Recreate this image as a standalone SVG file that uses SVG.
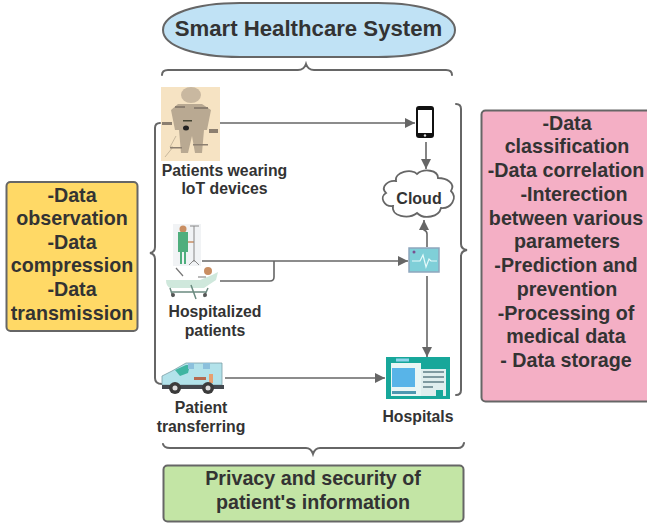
<svg xmlns="http://www.w3.org/2000/svg" width="647" height="523" viewBox="0 0 647 523">
<style>
text{font-family:"Liberation Sans",Arial,sans-serif;font-weight:700;fill:#333;text-anchor:middle}
.t20{font-size:19.700px}.t15{font-size:15.800px}
.box{stroke:#666;stroke-width:2}
.brace{fill:none;stroke:#666;stroke-width:2;stroke-linecap:round}
.line{fill:none;stroke:#666;stroke-width:1.6}
.arrow{marker-end:url(#ah)}
</style>
<defs>
<marker id="ah" markerUnits="userSpaceOnUse" markerWidth="11" markerHeight="10" refX="10" refY="5" orient="auto"><path d="M0 0L10 5L0 10Z" fill="#666"/></marker>
</defs>
<rect width="647" height="523" fill="#fff"/>
<g id="title"><path class="box" d="M163 30C163 14 195 3 240 3H378C423 3 455 14 455 30C455 46 423 57 378 57H240C195 57 163 46 163 30Z" fill="#c0e2f5"/><text x="308.500" y="36" font-size="22.200px">Smart Healthcare System</text></g>
<g id="connectors">
<path class="brace" d="M162 75Q162 70 168 70H298Q304 70 306 64Q308 70 314 70H446Q452 70 452 75"/>
<path class="brace" d="M163 444Q164 448 170 448H306Q311 448 313 454Q315 448 320 448H458Q463 448 464 443"/>
<path class="brace" d="M160 123Q155 123 155 128V247Q155 252 150 253Q155 254 155 259V378Q155 384 162 384"/>
<path class="brace" d="M456 104Q461 104 461 109V244Q461 249 467 250Q461 251 461 256V390Q461 395 456 395"/>
<path class="line arrow" d="M220 123H415"/>
<path class="line arrow" d="M426 142V169"/>
<path class="line arrow" d="M427 247V234Q427 231 424 230V220"/>
<path class="line arrow" d="M202 261H408"/>
<path class="line" d="M220 281H270Q274 281 274 277V261"/>
<path class="line arrow" d="M427 276V357"/>
<path class="line arrow" d="M225 378H385"/>
</g>
<g id="left-box"><rect class="box" x="6.500" y="182" width="131" height="149" rx="4" fill="#ffd966"/>
<text class="t20" x="72" y="201.500">-Data</text><text class="t20" x="72" y="225">observation</text><text class="t20" x="72" y="248.500">-Data</text><text class="t20" x="72" y="272">compression</text><text class="t20" x="72" y="295.500">-Data</text><text class="t20" x="72" y="319.500">transmission</text></g>
<g id="right-box"><rect class="box" x="481.500" y="110.500" width="170" height="291" rx="4" fill="#f4afc5"/>
<text class="t20" x="567" y="129.500">-Data</text><text class="t20" x="567" y="153.200">classification</text><text class="t20" x="566" y="177">-Data correlation</text><text class="t20" x="574" y="200.500">-Interection</text><text class="t20" x="566" y="224.500">between various</text><text class="t20" x="567" y="248.200">parameters</text><text class="t20" x="566" y="271.500">-Prediction and</text><text class="t20" x="567" y="295.500">prevention</text><text class="t20" x="566" y="319.500">-Processing of</text><text class="t20" x="566" y="343">medical data</text><text class="t20" x="566" y="366.500">- Data storage</text></g>
<g id="privacy"><rect class="box" x="163.500" y="465.500" width="300" height="56" rx="4" fill="#c3e5a5"/><text class="t20" x="313" y="484.500">Privacy and security of</text><text class="t20" x="313" y="508.500">patient's information</text></g>
<g id="iot-patients"><rect x="161" y="87" width="59" height="74" fill="#f6e3c3"/>
<ellipse cx="191" cy="95" rx="10" ry="8" fill="#c9b8a0"/>
<path d="M178 104H202L211 110L207 130H204L202 153H195L192 136L188 153H181L179 130H175L171 110Z" fill="#b9a992"/>
<ellipse cx="186" cy="128" rx="3" ry="2.500" fill="#222"/><rect x="183" y="120" width="9" height="1.500" fill="#443"/>
<path d="M176 136L170 147H173L165 157" fill="none" stroke="#c8b89d"/>
<g fill="#8c7f70"><rect x="162" y="122" width="10" height="3"/><rect x="209" y="129" width="9" height="4"/><rect x="175" y="106" width="10" height="2"/><rect x="194" y="107" width="14" height="2"/><rect x="170" y="147" width="12" height="1.500"/><rect x="193" y="144" width="15" height="1.500"/></g>
<text class="t15" x="224.500" y="175.500">Patients wearing</text><text class="t15" x="224.500" y="193.500">IoT devices</text></g>
<g id="phone"><rect x="416" y="106" width="18" height="32" rx="3" fill="#111"/><rect x="418" y="110" width="14" height="23" fill="#fff"/><circle cx="425" cy="135.500" r="1.200" fill="#ddd"/></g>
<g id="cloud"><path d="M396 181C394 172 412 168 417 174C424 168 438 170 438 178C446 178 456 183 451 191C458 198 451 209 441 208C439 217 424 220 417 213C408 220 391 216 393 206C384 207 379 197 386 193C380 187 388 180 396 181Z" fill="#fff" stroke="#666" stroke-width="1.800"/><text x="419" y="204" font-size="16px">Cloud</text></g>
<g id="monitor"><rect x="409" y="248" width="30" height="24" fill="#7fcfd8" stroke="#8fa6bd" stroke-width="1.500"/><path d="M412 261H420L423 255L426 267L429 259L431 261H437" fill="none" stroke="#e6fafa" stroke-width="1.200"/><circle cx="414" cy="252" r="1.500" fill="#7a4f90"/></g>
<g id="hospitalized-patients"><rect x="173" y="224" width="28" height="42" fill="#f1f3f5"/>
<circle cx="183" cy="229" r="3.500" fill="#c98e62"/><path d="M178 232H188V252H186V264H184V252H182V264H180V252H178Z" fill="#4fae7d"/><path d="M188 242H194" stroke="#c98e62" stroke-width="1.500"/>
<path d="M194 226V262M190 226H199M189 265L194 260L199 265" fill="none" stroke="#888" stroke-width="1"/>
<path d="M166 280H200L212 275L218 272L216 280L204 288H170Q166 286 166 280Z" fill="#cfe8dc"/>
<circle cx="208" cy="271" r="4" fill="#c98e62"/><path d="M176 268L183 276M198 277H206" stroke="#777" stroke-width="1.200"/>
<path d="M170 288L173 297M208 288L204 297M172 292H206M191 285L196 299" fill="none" stroke="#6b8a80" stroke-width="1.500"/><circle cx="173" cy="295" r="2" fill="#555"/><circle cx="205" cy="295" r="2" fill="#555"/>
<text class="t15" x="215" y="316.500">Hospitalized</text><text class="t15" x="215" y="335.500">patients</text></g>
<g id="ambulance"><path d="M162 385V376L172 371L186 363H222V385Z" fill="#b2e2ea" stroke="#7b9ea6" stroke-width="0.800"/><path d="M175 370L186 365H190L188 373L180 376Z" fill="#3fb5a2"/>
<rect x="188" y="363" width="6" height="6" fill="#8cc0dc"/><rect x="203" y="363" width="7" height="6" fill="#8cc0dc"/><rect x="194" y="377" width="12" height="3" fill="#b56a50"/><rect x="209" y="374" width="4" height="9" fill="#e8a070"/>
<rect x="162" y="385" width="62" height="4" fill="#44484e"/><circle cx="175" cy="388" r="6" fill="#3b3b3b"/><circle cx="175" cy="388" r="2.500" fill="#ddd"/><circle cx="208" cy="388" r="6" fill="#3b3b3b"/><circle cx="208" cy="388" r="2.500" fill="#ddd"/>
<text class="t15" x="201" y="412.500">Patient</text><text class="t15" x="201" y="431.500">transferring</text></g>
<g id="hospitals"><rect x="386" y="357" width="64" height="42" fill="#17a79a"/><rect x="391" y="363" width="30" height="33" fill="#e9f6f5"/><rect x="392" y="368" width="23" height="19" fill="#58b4e8"/><rect x="421" y="369" width="25" height="27" fill="#dfeeee"/><g fill="#7e9aa0"><rect x="423" y="371" width="21" height="2"/><rect x="423" y="376" width="21" height="2"/><rect x="423" y="381" width="21" height="2"/><rect x="423" y="386" width="10" height="2"/></g><rect x="436" y="390" width="7" height="7" fill="#17a79a"/><rect x="392" y="391" width="24" height="3" fill="#4d98b0"/><rect x="396" y="358.500" width="13" height="3" fill="#8fd4ea"/>
<text class="t15" x="418" y="421.500">Hospitals</text></g>
</svg>
